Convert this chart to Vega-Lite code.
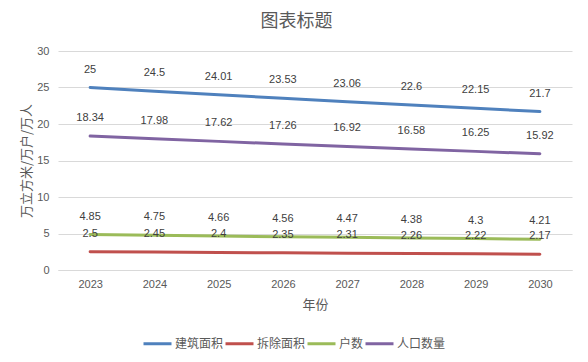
{
  "$schema": "https://vega.github.io/schema/vega-lite/v6.json",
  "width": 514,
  "height": 219,
  "autosize": {"type": "none"},
  "padding": {"left": 58, "top": 51, "right": 16, "bottom": 92},
  "background": "#ffffff",
  "config": {
    "font": "Liberation Sans, Noto Sans CJK SC",
    "view": {"stroke": null},
    "axis": {"labelColor": "#595959", "titleColor": "#595959", "labelFontSize": 11, "labelFont": "Liberation Sans, Noto Sans CJK SC", "titleFont": "Noto Sans CJK SC", "titleFontWeight": "normal"}
  },
  "title": {"text": "图表标题", "font": "Noto Sans CJK SC", "fontSize": 18, "fontWeight": "normal", "color": "#595959", "anchor": "middle", "frame": "bounds", "offset": 14},
  "data": {"values": [
    {"year": "2023", "series": "建筑面积", "value": 25},
    {"year": "2024", "series": "建筑面积", "value": 24.5},
    {"year": "2025", "series": "建筑面积", "value": 24.01},
    {"year": "2026", "series": "建筑面积", "value": 23.53},
    {"year": "2027", "series": "建筑面积", "value": 23.06},
    {"year": "2028", "series": "建筑面积", "value": 22.6},
    {"year": "2029", "series": "建筑面积", "value": 22.15},
    {"year": "2030", "series": "建筑面积", "value": 21.7},
    {"year": "2023", "series": "拆除面积", "value": 2.5},
    {"year": "2024", "series": "拆除面积", "value": 2.45},
    {"year": "2025", "series": "拆除面积", "value": 2.4},
    {"year": "2026", "series": "拆除面积", "value": 2.35},
    {"year": "2027", "series": "拆除面积", "value": 2.31},
    {"year": "2028", "series": "拆除面积", "value": 2.26},
    {"year": "2029", "series": "拆除面积", "value": 2.22},
    {"year": "2030", "series": "拆除面积", "value": 2.17},
    {"year": "2023", "series": "户数", "value": 4.85},
    {"year": "2024", "series": "户数", "value": 4.75},
    {"year": "2025", "series": "户数", "value": 4.66},
    {"year": "2026", "series": "户数", "value": 4.56},
    {"year": "2027", "series": "户数", "value": 4.47},
    {"year": "2028", "series": "户数", "value": 4.38},
    {"year": "2029", "series": "户数", "value": 4.3},
    {"year": "2030", "series": "户数", "value": 4.21},
    {"year": "2023", "series": "人口数量", "value": 18.34},
    {"year": "2024", "series": "人口数量", "value": 17.98},
    {"year": "2025", "series": "人口数量", "value": 17.62},
    {"year": "2026", "series": "人口数量", "value": 17.26},
    {"year": "2027", "series": "人口数量", "value": 16.92},
    {"year": "2028", "series": "人口数量", "value": 16.58},
    {"year": "2029", "series": "人口数量", "value": 16.25},
    {"year": "2030", "series": "人口数量", "value": 15.92}
  ]},
  "encoding": {
    "x": {"field": "year", "type": "ordinal", "scale": {"type": "point", "padding": 0.5},
      "axis": {"title": "年份", "titleFontSize": 13, "titlePadding": 9, "labelAngle": 0, "labelPadding": 8, "ticks": false, "domain": true, "domainColor": "#D9D9D9", "grid": false}},
    "y": {"field": "value", "type": "quantitative", "scale": {"domain": [0, 30], "nice": false},
      "axis": {"title": "万立方米/万户/万人", "titleFontSize": 13, "titlePadding": 3, "values": [0, 5, 10, 15, 20, 25, 30], "ticks": false, "domain": false, "gridColor": "#D9D9D9", "labelPadding": 9}}
  },
  "layer": [
    {
      "mark": {"type": "line", "strokeWidth": 3, "strokeCap": "round"},
      "encoding": {
        "color": {"field": "series", "type": "nominal",
          "scale": {"domain": ["建筑面积", "拆除面积", "户数", "人口数量"], "range": ["#4F81BD", "#C0504D", "#9BBB59", "#8064A2"]},
          "legend": {"title": null, "orient": "none", "direction": "horizontal", "legendX": 84, "legendY": 277, "symbolType": "stroke", "symbolSize": 784, "symbolStrokeWidth": 3, "labelFontSize": 12, "labelColor": "#595959", "labelFont": "Noto Sans CJK SC", "columnPadding": -11, "symbolOffset": 0, "labelOffset": 2}}
      }
    },
    {
      "mark": {"type": "text", "dy": -18, "fontSize": 11, "color": "#404040", "baseline": "middle"},
      "encoding": {"text": {"field": "value", "type": "quantitative"}}
    }
  ]
}
